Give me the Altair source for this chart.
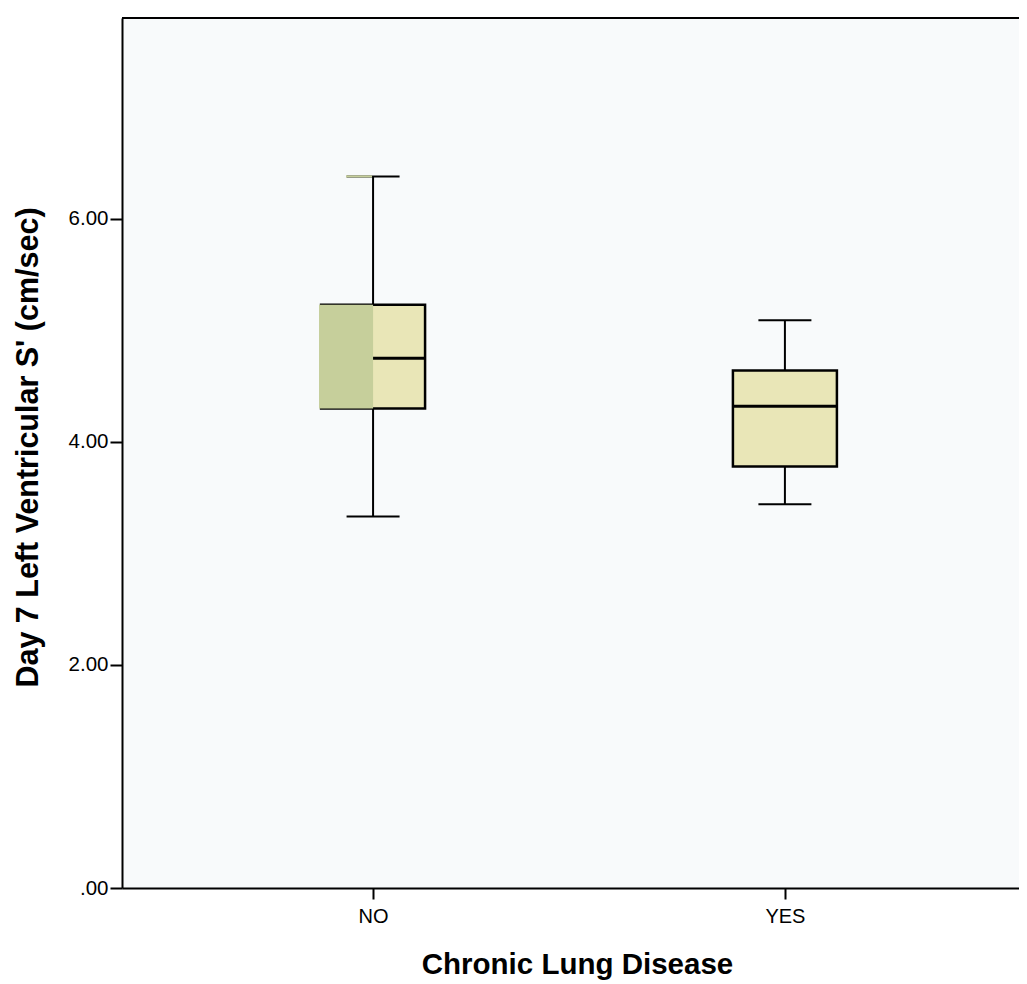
import altair as alt
import pandas as pd

groups = ["NO", "YES"]
mins = [3.33, 3.44]
q1s = [4.30, 3.78]
medians = [4.75, 4.32]
q3s = [5.23, 4.64]
maxs = [6.38, 5.09]

df = pd.DataFrame({"group": groups, "lo": mins, "q1": q1s, "med": medians, "q3": q3s, "hi": maxs})

W, H = 897, 870
BOX = 104
CAP = 53
BEIGE = "#E9E6B7"
GREEN = "#C6CF9B"
FONT = "Liberation Sans"

xenc = alt.X("group:N", sort=groups, title="Chronic Lung Disease",
             scale=alt.Scale(type="point", padding=0.589, align=0.5175),
             axis=alt.Axis(labelAngle=0, labelFontSize=20, labelColor="black", labelFont=FONT,
                           titleFontSize=29.5, titleFont=FONT, titleFontWeight="bold", titleColor="black",
                           titlePadding=24, titleX=455, labelPadding=7, domainColor="black", domainWidth=2,
                           tickColor="black", tickWidth=2, tickSize=11, grid=False))

yscale = alt.Scale(domain=[0, 7.8], nice=False, zero=True)
yaxis = alt.Axis(values=[0, 2, 4, 6], labelExpr="datum.value == 0 ? '.00' : format(datum.value, '.2f')",
                 labelFontSize=20.5, labelColor="black", labelFont=FONT,
                 titleFontSize=30.5, titleFont=FONT, titleFontWeight="bold", titleColor="black",
                 titlePadding=25, titleY=429, labelPadding=2, domainColor="black", domainWidth=2,
                 tickColor="black", tickWidth=2, tickSize=12, grid=False)

base = alt.Chart(df)

whisker = base.mark_rule(color="black", strokeWidth=2).encode(
    x=xenc,
    y=alt.Y("lo:Q", scale=yscale, axis=yaxis, title="Day 7 Left Ventricular S' (cm/sec)"),
    y2="hi:Q")

box = base.mark_bar(size=BOX, fill=BEIGE, stroke="black", strokeWidth=2.5, opacity=1).encode(
    x="group:N", y="q1:Q", y2="q3:Q")

median = base.mark_tick(size=BOX, thickness=3, color="black", opacity=1).encode(x="group:N", y="med:Q")

cap_lo = base.mark_tick(size=CAP, thickness=2, color="black", opacity=1).encode(x="group:N", y="lo:Q")
cap_hi = base.mark_tick(size=CAP, thickness=2, color="black", opacity=1).encode(x="group:N", y="hi:Q")

no_only = base.transform_filter(alt.datum.group == "NO")
green_box = no_only.mark_bar(size=BOX // 2 + 2, xOffset=-(BOX // 4) - 1, fill=GREEN, opacity=1).encode(
    x="group:N", y="q1:Q", y2="q3:Q")
green_cap = no_only.mark_tick(size=CAP // 2, thickness=2, xOffset=-(CAP // 4) - 1, color=GREEN,
                              opacity=1).encode(x="group:N", y="hi:Q")

top_border = alt.Chart(df).mark_rule(color="black", strokeWidth=2).encode(
    x=alt.value(0), x2=alt.value(W), y=alt.value(0))

chart = alt.layer(whisker, box, median, cap_lo, cap_hi, green_box, green_cap, top_border).properties(
    width=W, height=H,
    autosize=alt.AutoSizeParams(type="none"),
    padding={"left": 114, "top": 10, "right": 0, "bottom": 96},
    background="white",
).configure_view(stroke=None, fill="#F8FAFB")

chart.save("out.html", embed_options={"renderer": "svg", "actions": False})
